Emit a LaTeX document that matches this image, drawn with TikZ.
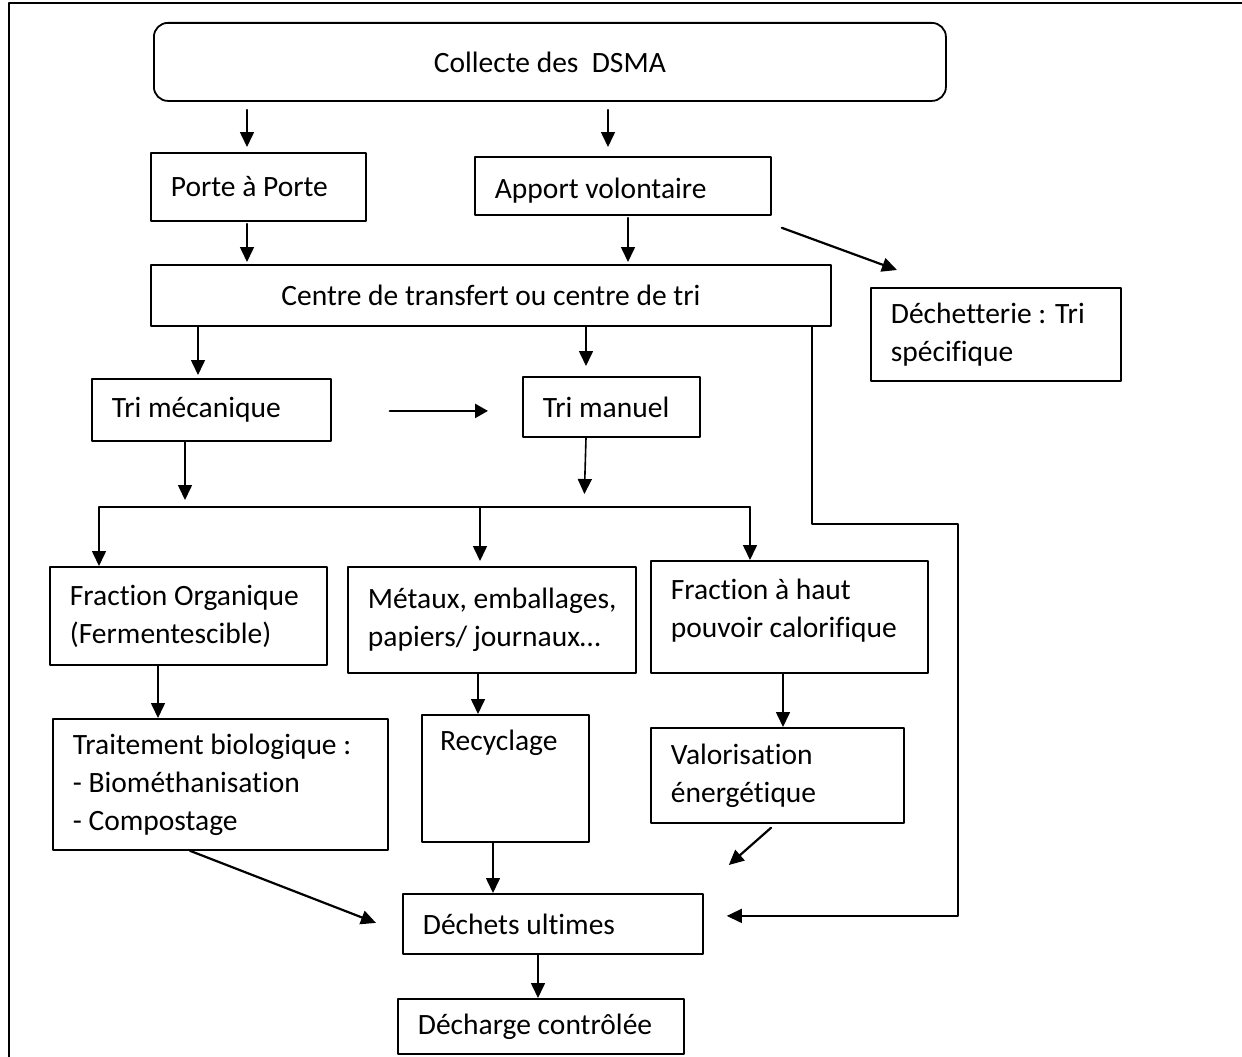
\documentclass[tikz,border=0pt]{standalone}
\usepackage{fontspec}
\setmainfont{Carlito}[Ligatures=NoCommon]
\usetikzlibrary{arrows.meta,calc}

\tikzset{
  boite/.style={draw, line width=1.8pt, anchor=north west, inner xsep=20pt, inner ysep=4pt, align=flush left},
  fleche/.style={line width=1.6pt, -{Triangle[length=15pt,width=14pt]}},
  grosse/.style={line width=2.4pt, -{Triangle[length=13pt,width=14pt]}}
}

\begin{document}
\begin{tikzpicture}[x=1pt,y=-1pt,line cap=round,line join=round,font=\fontsize{29.5}{38}\selectfont]
\useasboundingbox (0,0) rectangle (1242,1057);
\draw[line width=1.2pt] (9,1057) -- (9,3) -- (1242,3);

% boites
\node[boite, rounded corners=14pt, minimum width=792pt, minimum height=78pt, align=center] (collecte) at (153,22) {Collecte des \ DSMA};
\node[boite, text width=175pt, minimum height=68pt] (porte) at (150,152) {Porte à Porte};
\node[boite, text width=256pt, minimum height=58pt, text height=30pt] (apport) at (474,156) {Apport volontaire};
\node[boite, minimum width=680pt, minimum height=61pt, align=center] (centre) at (150,264) {Centre de transfert ou centre de tri};
\node[boite, text width=210pt, minimum height=93pt] (decheterie) at (870,287) {\mbox{Déchetterie : Tri}\\spécifique};
\node[boite, text width=199pt, minimum height=62pt] (trimeca) at (91,378) {Tri mécanique};
\node[boite, text width=137pt, minimum height=60pt] (trimanuel) at (522,376) {\mbox{Tri manuel}};
\node[boite, text width=237pt, minimum height=98pt] (fracorg) at (49,566) {\mbox{Fraction Organique}\\(Fermentescible)};
\node[boite, text width=248pt, minimum height=106pt] (metaux) at (347,566) {\mbox{Métaux, emballages,}\\\mbox{papiers/ journaux…}};
\node[boite, text width=237pt, minimum height=112pt, text depth=56pt] (frachaut) at (650,560) {Fraction à haut\\\mbox{pouvoir calorifique}};
\node[boite, text width=295pt, minimum height=131pt] (traitement) at (52,718) {\mbox{Traitement biologique :}\\- Biométhanisation\\- Compostage};
\node[boite, minimum width=167pt, minimum height=127pt,
      label={[anchor=north west, inner sep=0pt, xshift=19pt, yshift=-16pt]north west:Recyclage}] (recyclage) at (421,714) {};
\node[boite, text width=213pt, minimum height=95pt] (valo) at (650,727) {Valorisation\\énergétique};
\node[boite, text width=260pt, minimum height=60pt] (ultimes) at (402,893) {Déchets ultimes};
\node[boite, text width=246pt, minimum height=55pt] (decharge) at (397,998) {Décharge contrôlée};

\coordinate (barre) at (0,507);

% fleches
\draw[fleche, shorten <=8pt, shorten >=5pt] (collecte.south -| 247,0) -- (porte.north -| 247,0);
\draw[fleche, shorten <=8pt, shorten >=9pt] (collecte.south -| 608,0) -- (apport.north -| 608,0);
\draw[fleche, shorten <=2pt, shorten >=2pt] (porte.south -| 247,0) -- (centre.north -| 247,0);
\draw[fleche, shorten <=2pt, shorten >=2pt] (apport.south -| 628,0) -- (centre.north -| 628,0);
\draw[fleche, line width=2.2pt] ($(apport.south east)+(10,12)$) -- ($(decheterie.north west)+(27,-17)$);
\draw[fleche, shorten >=3pt] (centre.south -| 198,0) -- (trimeca.north -| 198,0);
\draw[fleche, shorten >=10pt] (centre.south -| 586,0) -- (trimanuel.north -| 586,0);
\draw[grosse] ($(trimeca.east)+(58,1)$) -- ($(trimanuel.west)+(-34,4)$);
\draw[fleche, shorten >=7pt] (trimeca.south -| 185,0) -- (barre -| 185,0);
\draw[fleche, shorten >=13pt] (trimanuel.south -| 586,0) -- (barre -| 584,0);
\draw[line width=1.8pt] (barre -| 99,0) -- (barre -| 750,0);
\draw[fleche] (barre -| 99,0) -- (fracorg.north -| 99,0);
\draw[fleche, shorten >=5pt] (barre -| 480,0) -- (metaux.north -| 480,0);
\draw[fleche] (barre -| 750,0) -- (frachaut.north -| 750,0);
\draw[fleche] (fracorg.south -| 158,0) -- (traitement.north -| 158,0);
\draw[fleche] (metaux.south -| 478,0) -- (recyclage.north -| 478,0);
\draw[fleche] (frachaut.south -| 783,0) -- (valo.north -| 783,0);
\draw[fleche, line width=2.2pt] ($(traitement.south west)+(138,0)$) -- ($(ultimes.west)+(-26,-1)$);
\draw[fleche] (recyclage.south -| 493,0) -- (ultimes.north -| 493,0);
\draw[fleche, line width=2.2pt] ($(valo.south west)+(121,4)$) -- ($(ultimes.north east)+(25,-28)$);
\draw[fleche] (centre.south -| 812,0) |- (958,524) |- ($(ultimes.east)+(23,-8)$);
\draw[fleche] (ultimes.south -| 538,0) -- (decharge.north -| 538,0);
\end{tikzpicture}
\end{document}
